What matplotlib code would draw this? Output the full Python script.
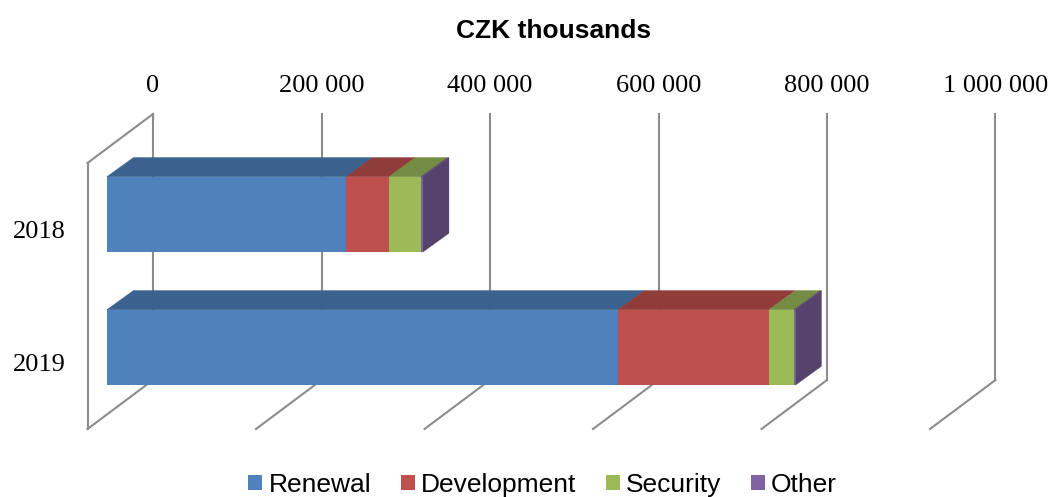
import matplotlib
matplotlib.use("Agg")
import matplotlib.pyplot as plt
from matplotlib.colors import to_rgb

years = ["2018", "2019"]
renewal = [284000, 606500]
development = [50700, 179200]
security = [38000, 29700]
other = [2000, 1500]
series_names = ["Renewal", "Development", "Security", "Other"]
series_values = [renewal, development, security, other]
series_colors = ["#4F81BD", "#C0504D", "#9BBB59", "#8064A2"]
x_ticks = [0, 200000, 400000, 600000, 800000, 1000000]
x_labels = ["0", "200 000", "400 000", "600 000", "800 000", "1 000 000"]

W, H = 1051, 497
PX_X = 1e6 / 842.5      # value units per pixel
PX_Y = 2 / 266          # category units per pixel
GRID = "#8C8C8C"
GRID_LW = 1.5
SERIF = "Liberation Serif"
SANS = "Liberation Sans"


def plane(left, top):
    ax = fig.add_axes([left / W, (H - top - 266) / H, 842.5 / W, 266 / H])
    ax.set_xlim(0, 1e6)
    ax.set_ylim(1.5, -0.5)
    ax.patch.set_visible(False)
    for s in ax.spines.values():
        s.set_visible(False)
    return ax


def shade(color, k):
    return tuple(c * k for c in to_rgb(color))


fig = plt.figure(figsize=(W / 100, H / 100), dpi=100)

# back wall: value axis and gridlines
ax_back = plane(153, 114)
ax_back.set_zorder(1)
ax_back.xaxis.tick_top()
ax_back.set_xticks(x_ticks, x_labels, family=SERIF, fontsize=19, color="black")
ax_back.tick_params(axis="x", length=0, pad=12.5)
ax_back.set_yticks([])
ax_back.grid(axis="x", color=GRID, lw=GRID_LW, clip_on=False)
ax_back.set_axisbelow(True)
FLOOR_X, FLOOR_Y = -65.5 * PX_X, 49 * PX_Y
for t in x_ticks:
    ax_back.plot([t, t + FLOOR_X], [1.5, 1.5 + FLOOR_Y], color=GRID, lw=GRID_LW, clip_on=False)
ax_back.plot([0, FLOOR_X], [-0.5, -0.5 + FLOOR_Y], color=GRID, lw=GRID_LW, clip_on=False)

# front edge of the side wall: category axis
ax_front = plane(87.5, 163)
ax_front.set_zorder(1)
ax_front.set_xticks([])
ax_front.set_yticks(range(len(years)), years, family=SERIF, fontsize=19, color="black")
ax_front.tick_params(axis="y", length=0, pad=15.5)
ax_front.spines["left"].set_visible(True)
ax_front.spines["left"].set_color(GRID)
ax_front.spines["left"].set_linewidth(GRID_LW)

# bars
ax_bar = plane(107, 148)
ax_bar.set_zorder(2)
ax_bar.set_xticks([])
ax_bar.set_yticks([])
BAR_H = 0.568
DX, DY = 26.3 * PX_X, -19 * PX_Y
positions = list(range(len(years)))
starts = [0] * len(years)
handles = []
for name, vals, col in zip(series_names, series_values, series_colors):
    for p, v, s in zip(positions, vals, starts):
        top = p - BAR_H / 2
        c = shade(col, 0.75)
        ax_bar.fill([s, s + v, s + v + DX, s + DX],
                    [top, top, top + DY, top + DY],
                    facecolor=c, edgecolor=c, lw=0.4, clip_on=False, zorder=1)
    bars = ax_bar.barh(positions, vals, left=starts, height=BAR_H, color=col,
                       edgecolor="none", label=name, zorder=2)
    handles.append(bars)
    starts = [s + v for s, v in zip(starts, vals)]
for p, end in zip(positions, starts):
    top, bot = p - BAR_H / 2, p + BAR_H / 2
    c = shade(series_colors[-1], 0.67)
    ax_bar.fill([end, end + DX, end + DX, end],
                [top, top + DY, bot + DY, bot],
                facecolor=c, edgecolor=c, lw=0.2, clip_on=False, zorder=1.5)

fig.text(553.5 / W, 1 - 31 / H, "CZK thousands", family=SANS, fontsize=19,
         fontweight="bold", ha="center", va="center", color="black")

fig.legend(handles=handles, labels=series_names, loc="lower center", ncol=4,
           bbox_to_anchor=(542.5 / W, 0.0), frameon=False,
           prop={"family": SANS, "size": 19}, handlelength=0.53, handleheight=0.53,
           handletextpad=0.23, columnspacing=1.12, borderpad=0, borderaxespad=0)

fig.savefig("out.png", dpi=100, facecolor="white")
